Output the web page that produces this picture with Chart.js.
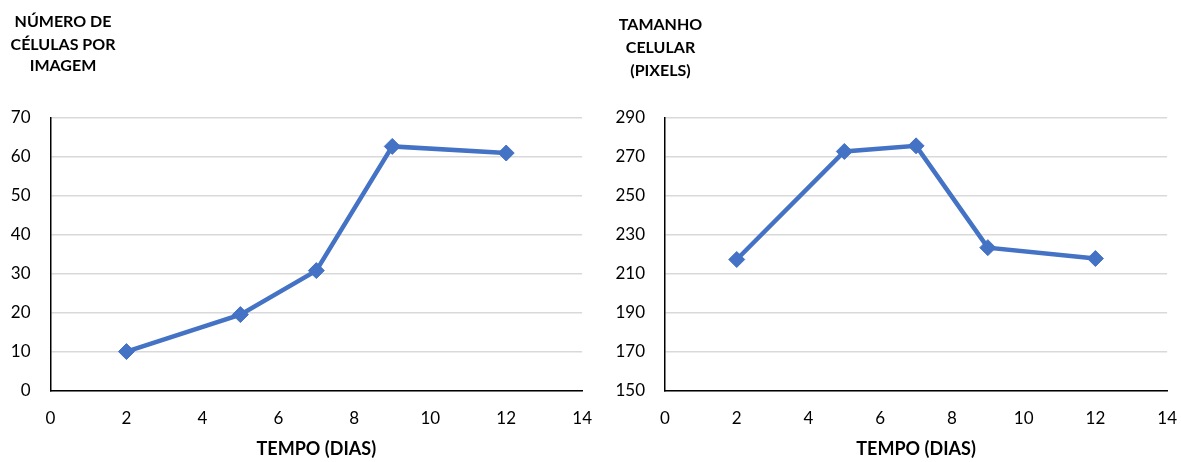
<!DOCTYPE html>
<html>
<head>
<meta charset="utf-8">
<script src="https://cdn.jsdelivr.net/npm/chart.js@4/dist/chart.umd.min.js"></script>
<style>
  html, body { margin: 0; padding: 0; background: #fff; }
  #wrap { position: relative; width: 1181px; height: 462px; overflow: hidden; }
  canvas { position: absolute; top: 0; }
  #c1 { left: 0; }
  #c2 { left: 600px; }
</style>
</head>
<body>
<div id="wrap">
  <canvas id="c1" width="610" height="462"></canvas>
  <canvas id="c2" width="595" height="462"></canvas>
</div>
<script>
// Days of measurement (shared x values)
const dias = [2, 5, 7, 9, 12];

// Left panel: number of cells per image
const celulasPorImagem = [10, 19.5, 30.8, 62.7, 61.0];
const tituloCelulas = ['NÚMERO DE', 'CÉLULAS POR', 'IMAGEM'];
const yTicksCelulas = [0, 10, 20, 30, 40, 50, 60, 70];

// Right panel: cell size in pixels
const tamanhoCelular = [217.3, 272.8, 275.7, 223.4, 217.8];
const tituloTamanho = ['TAMANHO', 'CELULAR', '(PIXELS)'];
const yTicksTamanho = [150, 170, 190, 210, 230, 250, 270, 290];

// Shared x ticks
const xTicks = [0, 2, 4, 6, 8, 10, 12, 14];
const xTitulo = 'TEMPO (DIAS)';

const FONT = 'Lato, "Open Sans", "Noto Sans", sans-serif';
const AZUL = '#4472C4';

// Draws the stacked, centred heading above the value axis
const headingPlugin = {
  id: 'heading',
  afterDraw(chart, args, opts) {
    const ctx = chart.ctx;
    ctx.save();
    ctx.font = 'bold 16px ' + FONT;
    ctx.fillStyle = '#000';
    ctx.textAlign = 'center';
    ctx.textBaseline = 'middle';
    opts.lines.forEach((t, i) => ctx.fillText(t, opts.x, opts.ys[i]));
    ctx.restore();
  }
};

function makeChart(id, values, yTicks, heading, layout) {
  const yMin = yTicks[0], yMax = yTicks[yTicks.length - 1];
  const step = yTicks[1] - yTicks[0];
  return new Chart(document.getElementById(id), {
    type: 'line',
    data: {
      datasets: [{
        data: dias.map((d, i) => ({ x: d, y: values[i] })),
        borderColor: AZUL,
        backgroundColor: AZUL,
        borderWidth: 4.5,
        pointStyle: 'rectRot',
        pointRadius: 8,
        pointBorderWidth: 1,
        pointBackgroundColor: AZUL,
        pointBorderColor: AZUL,
        tension: 0,
        fill: false
      }]
    },
    options: {
      responsive: false,
      animation: false,
      events: [],
      layout: { padding: { top: 118, right: 0, bottom: 0, left: 0 } },
      plugins: {
        legend: { display: false },
        tooltip: { enabled: false },
        heading: { lines: heading, x: layout.hx, ys: layout.hy }
      },
      scales: {
        x: {
          type: 'linear',
          min: xTicks[0],
          max: xTicks[xTicks.length - 1],
          afterBuildTicks(s) { s.ticks = xTicks.map(v => ({ value: v })); },
          afterFit(s) { s.height = 71.5; },
          grid: { drawOnChartArea: false, drawTicks: false },
          border: { display: true, color: '#000', width: 1.5 },
          ticks: { padding: 18, color: '#000', font: { family: FONT, size: 17 } },
          title: {
            display: true,
            text: xTitulo,
            color: '#000',
            font: { family: FONT, size: 18, weight: 'bold' },
            padding: { top: 2, bottom: 2 }
          }
        },
        y: {
          type: 'linear',
          min: yMin,
          max: yMax,
          afterBuildTicks(s) { s.ticks = yTicks.map(v => ({ value: v })); },
          afterFit(s) { s.width = layout.yw; },
          grid: { color: '#D9D9D9', lineWidth: 1.5, drawTicks: false },
          border: { display: true, color: '#000', width: 1.5 },
          ticks: { stepSize: step, padding: 20, color: '#000', font: { family: FONT, size: 17 } }
        }
      }
    },
    plugins: [headingPlugin]
  });
}

makeChart('c1', celulasPorImagem, yTicksCelulas, tituloCelulas,
  { yw: 50.5, hx: 63, hy: [22, 44.7, 66.3] });
makeChart('c2', tamanhoCelular, yTicksTamanho, tituloTamanho,
  { yw: 65, hx: 60.5, hy: [25, 47.7, 70.7] });
</script>
</body>
</html>
